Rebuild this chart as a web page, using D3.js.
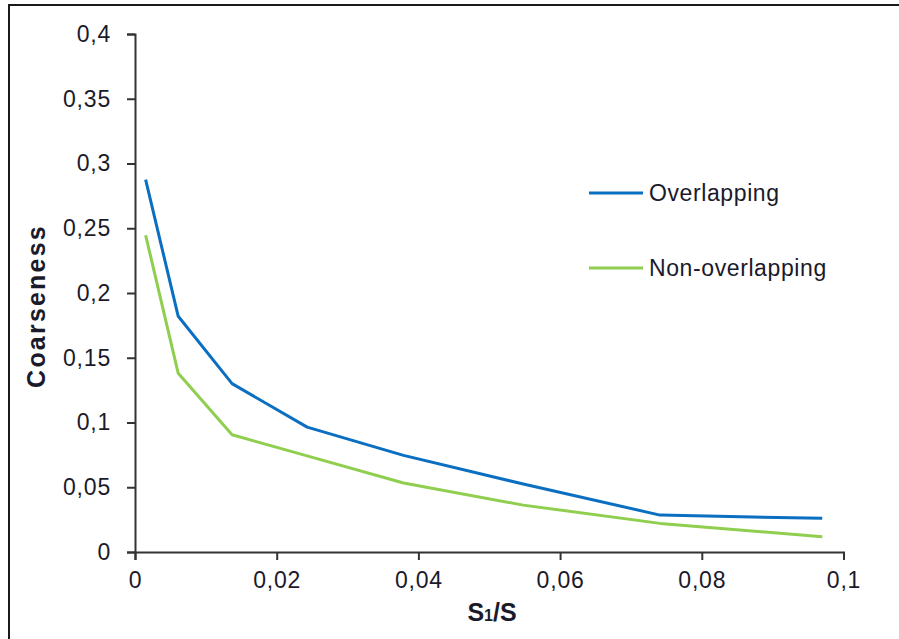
<!DOCTYPE html>
<html>
<head>
<meta charset="utf-8">
<script src="https://cdn.jsdelivr.net/npm/d3@7/dist/d3.min.js"></script>
<style>
  html, body { margin: 0; padding: 0; background: #fff; }
  svg { display: block; }
  text { font-family: "Liberation Sans", Arial, sans-serif; fill: #1a1a2a; }
</style>
</head>
<body>
<svg id="chart" width="899" height="639"></svg>
<script>
// S1/S ratio sampled for both partitioning schemes
const ratio = [0.0015, 0.0061, 0.0137, 0.0243, 0.0379, 0.0548, 0.0741, 0.0970];
// Coarseness with overlapping sub-windows
const overlapping = [0.2875, 0.182, 0.130, 0.0964, 0.0746, 0.0525, 0.0285, 0.0260];
// Coarseness with non-overlapping sub-windows
const nonOverlapping = [0.2446, 0.138, 0.0905, 0.0742, 0.0533, 0.0362, 0.0221, 0.0118];
const seriesNames = ["Overlapping", "Non-overlapping"];
const xTicks = [0, 0.02, 0.04, 0.06, 0.08, 0.1];
const yTicks = [0, 0.05, 0.1, 0.15, 0.2, 0.25, 0.3, 0.35, 0.4];

const svg = d3.select("#chart");
const fmt = v => String(v).replace(".", ",");

// outer frame
svg.append("rect")
  .attr("x", 9).attr("y", 5).attr("width", 1000).attr("height", 1000)
  .attr("fill", "none").attr("stroke", "#1a1a1a").attr("stroke-width", 2);

const x = d3.scaleLinear().domain([0, 0.1]).range([135, 843.5]);
const y = d3.scaleLinear().domain([0, 0.4]).range([552, 34]);

// y axis
const yAxis = svg.append("g")
  .attr("transform", `translate(${x(0)},0)`)
  .call(d3.axisLeft(y).tickValues(yTicks).tickFormat(fmt).tickSize(8).tickPadding(16));
// x axis
const xAxis = svg.append("g")
  .attr("transform", `translate(0,${y(0)})`)
  .call(d3.axisBottom(x).tickValues(xTicks).tickFormat(fmt).tickSize(8).tickPadding(12));

[yAxis, xAxis].forEach(g => {
  g.select(".domain").attr("stroke", "#333").attr("stroke-width", 2);
  g.selectAll(".tick line").attr("stroke", "#333").attr("stroke-width", 2);
  g.selectAll(".tick text")
    .style("font-size", "23px")
    .style("letter-spacing", "0.8px")
    .style("font-family", "'Liberation Sans', Arial, sans-serif")
    .attr("fill", "#1a1a2a");
});

// axis titles
svg.append("text")
  .attr("transform", `translate(45,306) rotate(-90)`)
  .attr("text-anchor", "middle")
  .style("font-size", "25px").style("font-weight", "bold")
  .style("letter-spacing", "2.2px")
  .text("Coarseness");

const xt = svg.append("text")
  .attr("x", 492).attr("y", 621)
  .attr("text-anchor", "middle")
  .style("font-size", "25px").style("font-weight", "bold");
xt.append("tspan").text("S");
xt.append("tspan").style("font-size", "16px").text("1");
xt.append("tspan").text("/S");

// series lines
const colors = ["#0B6FC1", "#8FCE4F"];
const series = [overlapping, nonOverlapping];
const line = d3.line().x(d => x(d[0])).y(d => y(d[1]));

series.forEach((vals, i) => {
  svg.append("path")
    .datum(ratio.map((r, k) => [r, vals[k]]))
    .attr("fill", "none")
    .attr("stroke", colors[i])
    .attr("stroke-width", 3)
    .attr("stroke-linejoin", "round")
    .attr("d", line);
});

// legend
const legendY = [193, 268];
seriesNames.forEach((name, i) => {
  svg.append("line")
    .attr("x1", 589).attr("x2", 643)
    .attr("y1", legendY[i]).attr("y2", legendY[i])
    .attr("stroke", colors[i]).attr("stroke-width", 3);
  svg.append("text")
    .attr("x", 649).attr("y", legendY[i] + 8)
    .style("font-size", "23px")
    .style("letter-spacing", "0.6px")
    .text(name);
});
</script>
</body>
</html>
